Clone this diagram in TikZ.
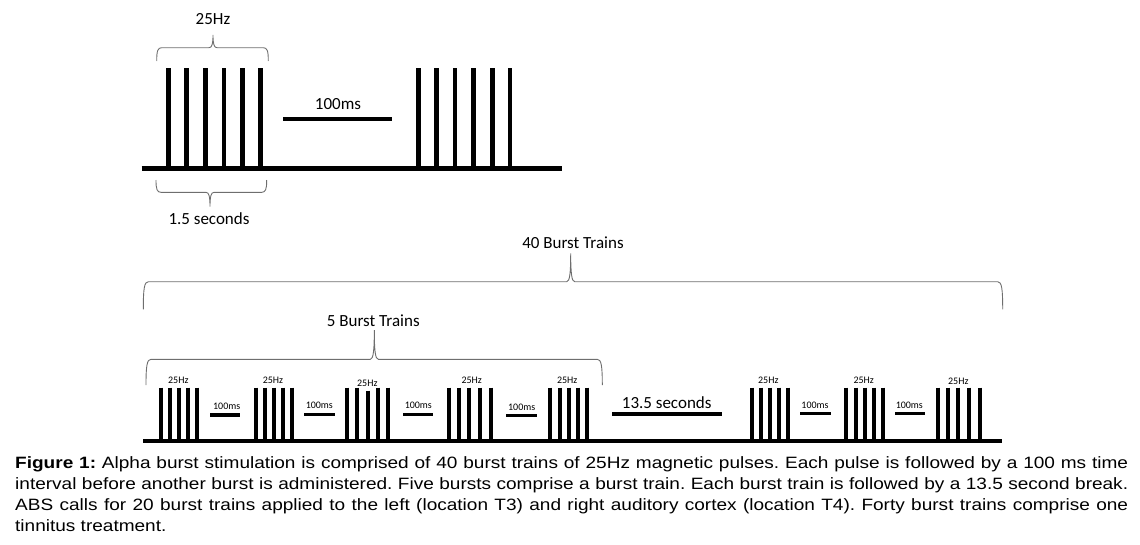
\documentclass[tikz,border=0pt]{standalone}
\usepackage{fontspec}
\setmainfont{Carlito}
\newfontfamily\capfont[FakeStretch=1.16]{Liberation Sans}
\newcommand{\mybrace}[6]{%
\draw[bracestyle] (#1,#5) .. controls (#1,{#4+0.25*(#5-#4)}) and ({#1+1},#4) .. ({#1+5},#4) -- ({#3-4},#4) .. controls ({#3-1},#4) and (#3,{#4+0.3*(#6-#4)}) .. (#3,#6) .. controls (#3,{#4+0.3*(#6-#4)}) and ({#3+1},#4) .. ({#3+4},#4) -- ({#2-5},#4) .. controls ({#2-1},#4) and (#2,{#4+0.25*(#5-#4)}) .. (#2,#5);}
\begin{document}
\frenchspacing
\begin{tikzpicture}[x=1pt,y=-1pt,
  bracestyle/.style={draw={rgb,255:red,110;green,110;blue,110}, line width=0.9pt},
  bigpulse/.style={line width=4.6pt, line cap=butt},
  smallpulse/.style={line width=3.8pt, line cap=butt},
  bigbase/.style={line width=5pt, line cap=butt},
  smallbase/.style={line width=4pt, line cap=butt},
  bigbar/.style={line width=4pt, line cap=butt},
  smallbar/.style={line width=3.5pt, line cap=butt},
  bigtxt/.style={inner sep=0pt, font=\fontsize{17}{20}\selectfont},
  smalltxt/.style={inner sep=0pt, font=\fontsize{10}{12}\selectfont}]
\useasboundingbox (0,0) rectangle (1140,544);
% ---------- top detail ----------
\draw[bigbase] (141.7,168) -- (561.7,168);
\foreach \x in {168.3,186.3,205.3,224,242.3,260.3,418.3,436.7,455,473.3,492.3,510}
  \draw[bigpulse] (\x,68) -- (\x,168);
\draw[bigbar] (283.3,119) -- (391.7,119);
\node[bigtxt] (t100) at (338,104) {100ms};
\mybrace{156.7}{268.3}{213}{47.7}{61}{35}
\node[bigtxt] (t25) at (213,19) {25Hz};
\mybrace{156}{266.7}{210}{192.3}{180}{206.7}
\node[bigtxt] (t15) at (209,219) {1.5 seconds};
% ---------- braces ----------
\mybrace{143.3}{1002.7}{570.7}{281.7}{309.3}{253.3}
\node[bigtxt] (t40) at (573,243) {40 Burst Trains};
\mybrace{146}{602.3}{374.3}{359.3}{385}{330}
\node[bigtxt] (t5) at (373.3,321) {5 Burst Trains};
% ---------- bottom train ----------
\draw[smallbase] (143.3,441) -- (1001.7,441);
\foreach \x in {161,170.3,179.3,188.3,197.3,
                255.7,265,274,282.7,291.7,
                346.7,356.7,378,388.3,
                449,459,469.3,479.7,491,
                550,560,569.3,578,586.7,
                752,761.3,770.3,779.3,788,
                846,855.7,865,874,882.7,
                937.7,948,958.3,968.7,979.7}
  \draw[smallpulse] (\x,387.7) -- (\x,441);
\draw[smallpulse] (367.7,390.5) -- (367.7,441);
\node[smalltxt] (h1) at (178.3,380) {25Hz};
\node[smalltxt] (h2) at (273,380) {25Hz};
\node[smalltxt] (h3) at (367.3,383.3) {25Hz};
\node[smalltxt] (h4) at (471.7,380) {25Hz};
\node[smalltxt] (h5) at (567.2,380) {25Hz};
\node[smalltxt] (h6) at (768.3,380) {25Hz};
\node[smalltxt] (h7) at (863.7,380) {25Hz};
\node[smalltxt] (h8) at (958.3,381) {25Hz};
\draw[smallbar] (210,415) -- (240,415);
\node[smalltxt] (m1) at (226.7,406) {100ms};
\draw[smallbar] (304.3,414.3) -- (335,414.3);
\node[smalltxt] (m2) at (319.3,405) {100ms};
\draw[smallbar] (403.3,414.3) -- (433.3,414.3);
\node[smalltxt] (m3) at (418.3,405.7) {100ms};
\draw[smallbar] (506,415.7) -- (536.7,415.7);
\node[smalltxt] (m4) at (521.7,407.3) {100ms};
\draw[bigbar] (612.3,414.3) -- (721.7,414.3);
\node[bigtxt] (t135) at (666.7,402.3) {13.5 seconds};
\draw[smallbar] (800,413.3) -- (830.7,413.3);
\node[smalltxt] (m6) at (815,405) {100ms};
\draw[smallbar] (895,413.3) -- (925,413.3);
\node[smalltxt] (m7) at (909.3,405) {100ms};
% ---------- caption ----------
\node[anchor=north west, inner sep=0pt, text width=1113pt, align=justify,
      font=\capfont\fontsize{16.4}{21}\selectfont] (cap) at (15,456)
{\frenchspacing\textbf{Figure 1:} Alpha burst stimulation is comprised of 40 burst trains of 25Hz magnetic pulses. Each pulse is followed by a 100 ms time\linebreak
interval before another burst is administered. Five bursts comprise a burst train. Each burst train is followed by a 13.5 second break.\linebreak
ABS calls for 20 burst trains applied to the left (location T3) and right auditory cortex (location T4). Forty burst trains comprise one\linebreak
tinnitus treatment.};
\end{tikzpicture}
\end{document}
